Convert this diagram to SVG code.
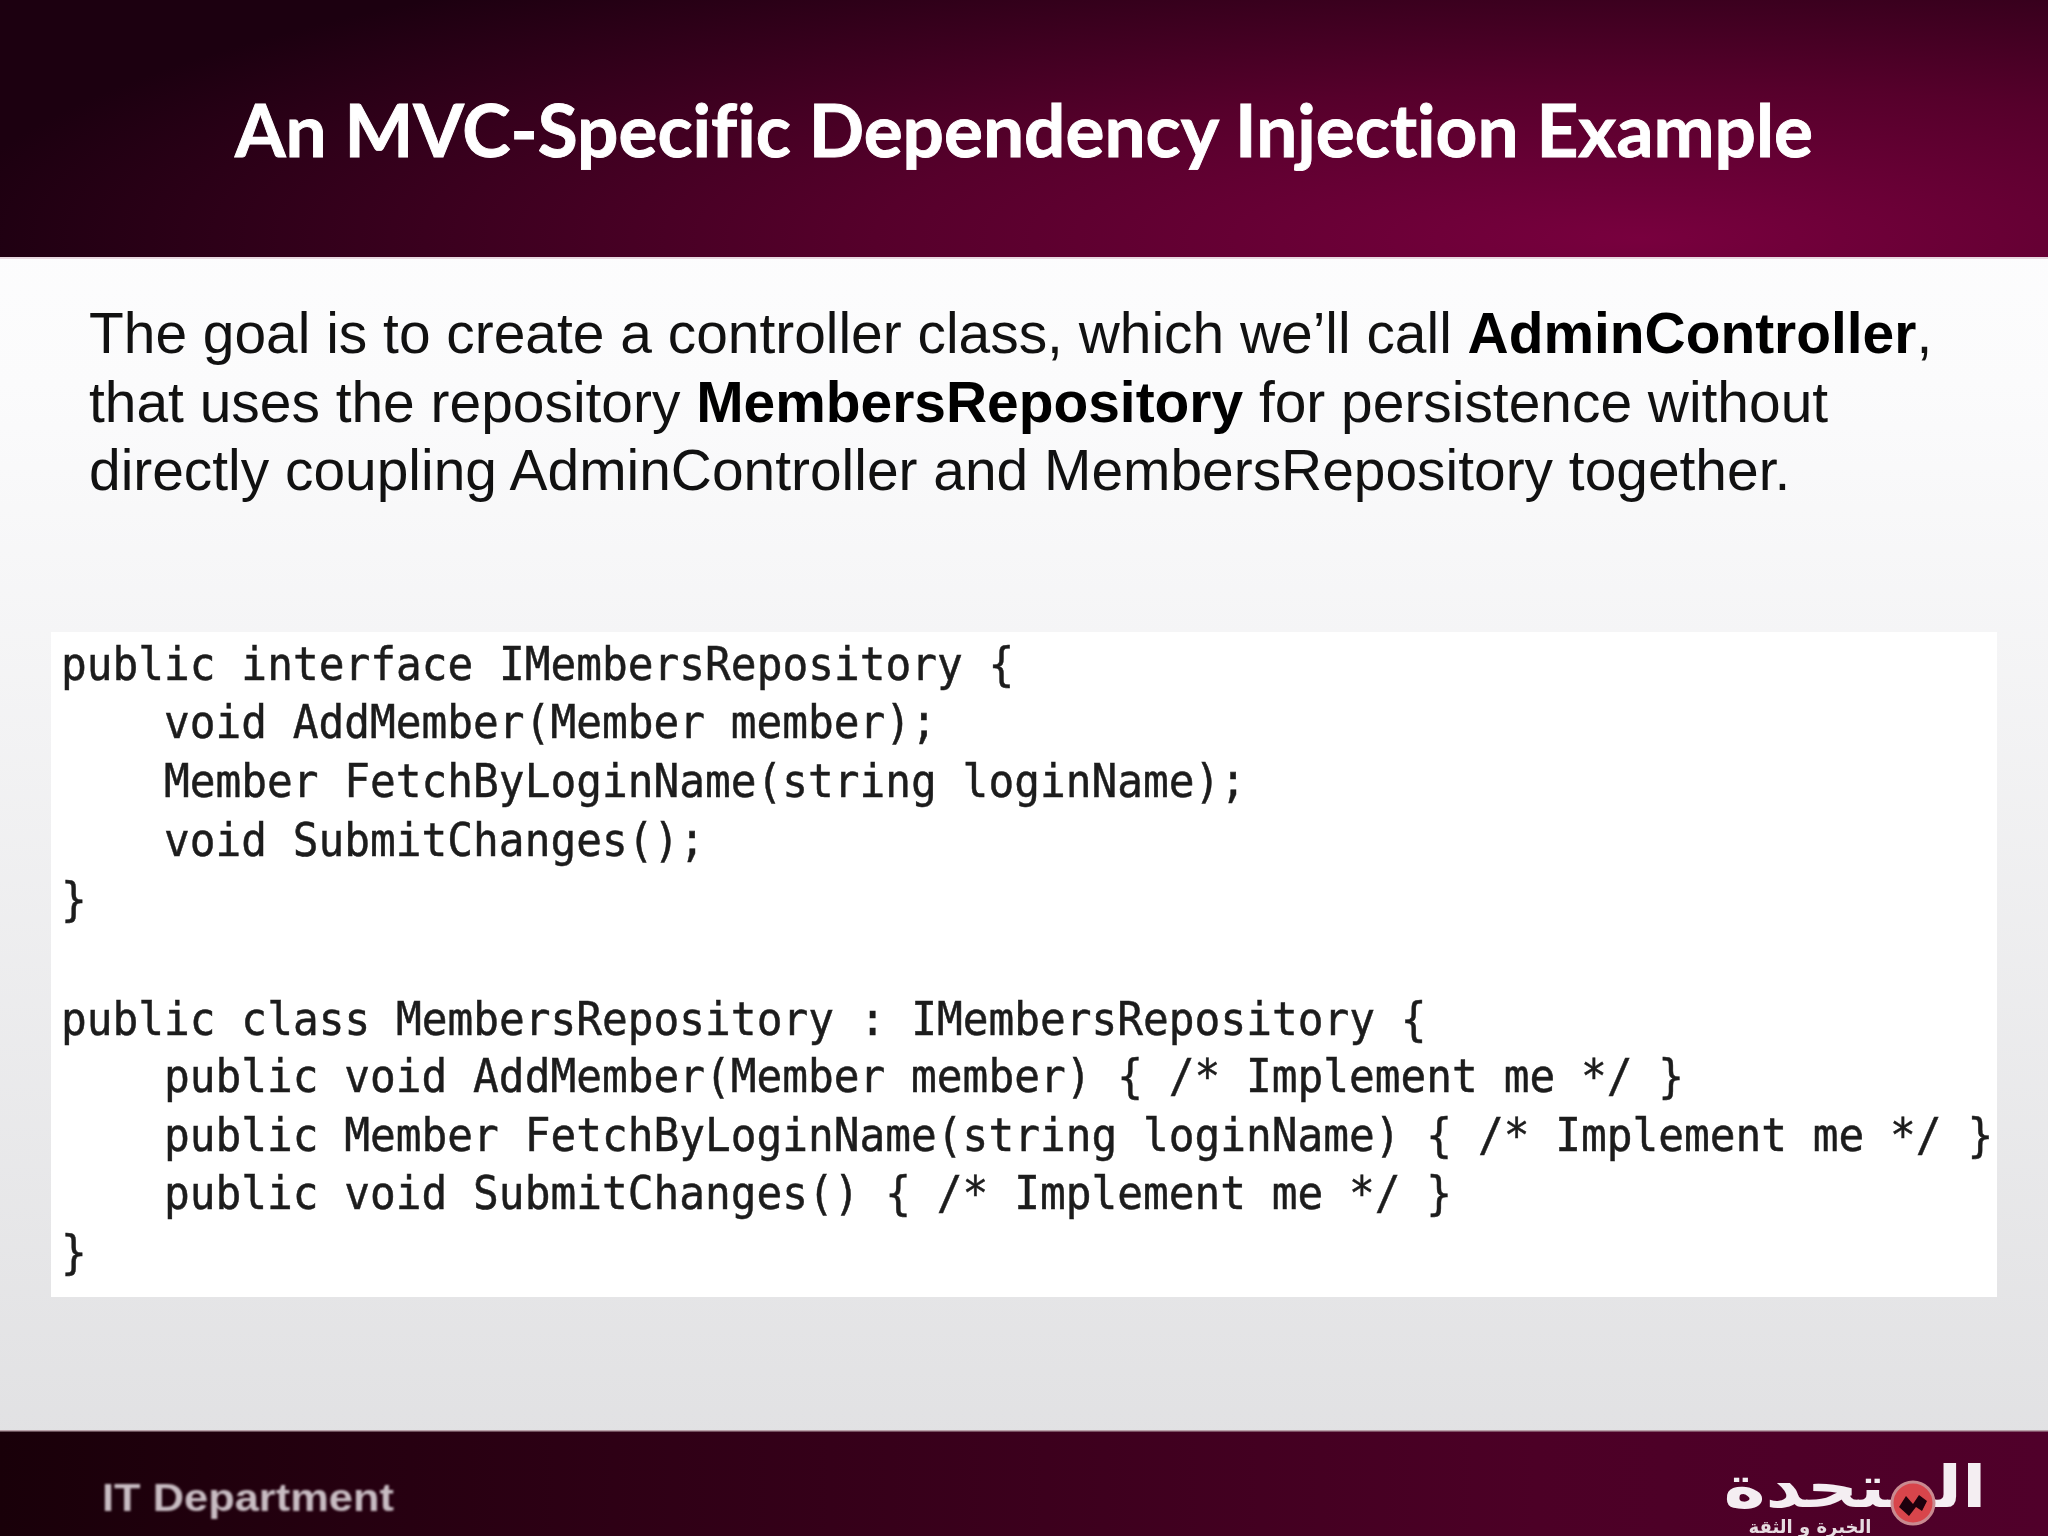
<svg xmlns="http://www.w3.org/2000/svg" width="2048" height="1536" viewBox="0 0 2048 1536">
<defs>
<linearGradient id="body" x1="0" y1="0" x2="0" y2="1"><stop offset="0" stop-color="#ffffff"/><stop offset="0.25" stop-color="#fbfbfc"/><stop offset="1" stop-color="#dfdfe1"/></linearGradient>
<radialGradient id="head" gradientUnits="userSpaceOnUse" cx="1640" cy="240" r="1700" gradientTransform="translate(0 190) scale(1 0.2)"><stop offset="0" stop-color="#78003e"/><stop offset="0.45" stop-color="#56002b"/><stop offset="1" stop-color="#1c0010"/></radialGradient>
<linearGradient id="foot" x1="0" y1="0" x2="1" y2="0"><stop offset="0" stop-color="#190009"/><stop offset="0.3" stop-color="#2e0015"/><stop offset="0.75" stop-color="#4c0026"/><stop offset="1" stop-color="#50002a"/></linearGradient>
<filter id="soft" x="-5%" y="-20%" width="110%" height="140%"><feGaussianBlur stdDeviation="0.7"/></filter>
<filter id="soft2" x="-5%" y="-20%" width="110%" height="140%"><feGaussianBlur stdDeviation="1.1"/></filter>
<style>
.body{font:56.9px "Liberation Sans",Arial,sans-serif;fill:#111}
.strong{font-weight:700;fill:#000}
.code{font:47px "DejaVu Sans Mono","Liberation Mono",monospace;fill:#1c1c1c;stroke:#1c1c1c;stroke-width:.5}
</style>
</defs>
<rect width="2048" height="1536" fill="url(#body)"/>
<g id="header">
<rect width="2048" height="258" fill="url(#head)"/>
<rect y="257" width="2048" height="2" fill="#e8d8e0"/>
<text x="235" y="157" font-family="Lato,'Open Sans',sans-serif" font-weight="700" font-size="72" fill="#fff" stroke="#fff" stroke-width=".9" style="font-variant-ligatures:none" textLength="1578" lengthAdjust="spacingAndGlyphs">An MVC-Specific Dependency Injection Example</text>
</g>
<g id="intro">
<text class="body" x="89" y="353">The goal is to create a controller class, which we’ll call <tspan class="strong">AdminController</tspan>,</text>
<text class="body" x="89" y="421.5">that uses the repository <tspan class="strong">MembersRepository</tspan> for persistence without</text>
<text class="body" x="89" y="490">directly coupling AdminController and MembersRepository together.</text>
</g>
<g id="code">
<rect x="51" y="632" width="1946" height="665" fill="#fff"/>
<g filter="url(#soft)" transform="scale(0.9108 1)">
<text class="code" x="67" y="680">public interface IMembersRepository {</text>
<text class="code" x="180" y="738">void AddMember(Member member);</text>
<text class="code" x="180" y="797">Member FetchByLoginName(string loginName);</text>
<text class="code" x="180" y="856">void SubmitChanges();</text>
<text class="code" x="67" y="915">}</text>
<text class="code" x="67" y="1035">public class MembersRepository : IMembersRepository {</text>
<text class="code" x="180" y="1092">public void AddMember(Member member) { /* Implement me */ }</text>
<text class="code" x="180" y="1151">public Member FetchByLoginName(string loginName) { /* Implement me */ }</text>
<text class="code" x="180" y="1209">public void SubmitChanges() { /* Implement me */ }</text>
<text class="code" x="67" y="1268">}</text>
</g>
</g>
<g id="footer">
<rect y="1431" width="2048" height="105" fill="url(#foot)"/>
<rect y="1430" width="2048" height="1.5" fill="#b8a0a8"/>
<text x="102" y="1511" font-family="'Liberation Sans',Arial,sans-serif" font-weight="700" font-size="38" fill="#c8bcc2" textLength="292" lengthAdjust="spacingAndGlyphs" filter="url(#soft2)">IT Department</text>
</g>
<g id="logo">
<g filter="url(#soft)">
<text transform="translate(1855 1507) scale(1.05 .85)" text-anchor="middle" direction="rtl" font-family="'DejaVu Sans',sans-serif" font-weight="700" font-size="68" fill="#f4eef2">المتحدة</text>
<circle cx="1913" cy="1503" r="21" fill="#d8444c" stroke="#c98a90" stroke-width="3"/>
<path d="M1899 1507l7-11 7 8 6-9 8 6-5 10-6-4-7 9z" fill="#1a0508"/>
<text x="1810" y="1533" text-anchor="middle" direction="rtl" font-family="'DejaVu Sans',sans-serif" font-weight="700" font-size="18" fill="#e6dce0">الخبرة و الثقة</text>
</g>
</g>
</svg>
